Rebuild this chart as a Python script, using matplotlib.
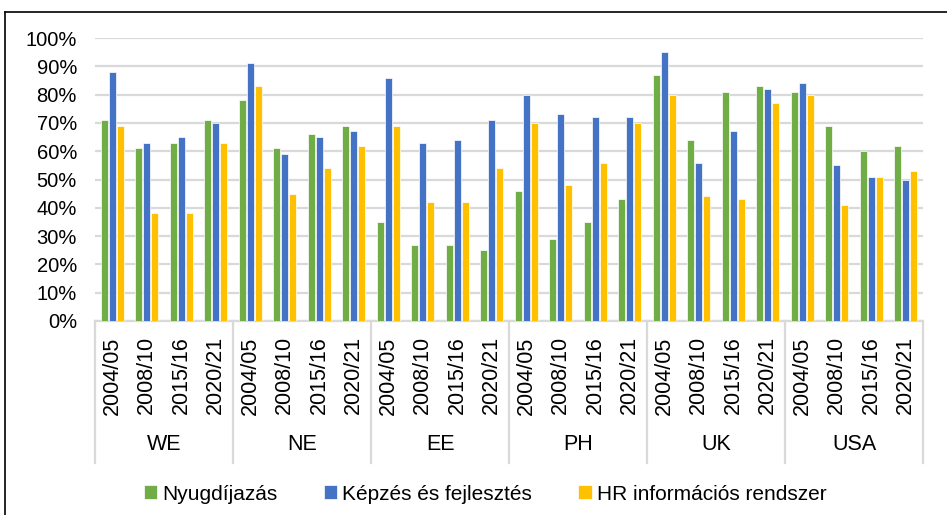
import matplotlib.pyplot as plt
import numpy as np
from matplotlib.lines import Line2D

plt.rcParams['font.family'] = ['Liberation Sans', 'DejaVu Sans']

regions = ['WE', 'NE', 'EE', 'PH', 'UK', 'USA']
periods = ['2004/05', '2008/10', '2015/16', '2020/21']
series = ['Nyugdíjazás', 'Képzés és fejlesztés', 'HR információs rendszer']

# values per region, 4 periods each (%)
nyugdij = [71, 61, 63, 71,  78, 61, 66, 69,  35, 27, 27, 25,
           46, 29, 35, 43,  87, 64, 81, 83,  81, 69, 60, 62]
kepzes = [88, 63, 65, 70,  91, 59, 65, 67,  86, 63, 64, 71,
          80, 73, 72, 72,  95, 56, 67, 82,  84, 55, 51, 50]
hr_info = [69, 38, 38, 63,  83, 45, 54, 62,  69, 42, 42, 54,
           70, 48, 56, 70,  80, 44, 43, 77,  80, 41, 51, 53]

colors = ['#70AD47', '#4472C4', '#FFC000']

W, H = 947, 515
fig = plt.figure(figsize=(W / 100, H / 100), dpi=100)
ax = fig.add_axes([95 / W, 1 - 321 / H, (923 - 95) / W, (321 - 38) / H])

n = len(regions) * len(periods)
x = np.arange(n)
bw = 0.21
for i, (vals, c, lab) in enumerate(zip([nyugdij, kepzes, hr_info], colors, series)):
    ax.bar(x + (i - 1) * (bw + 0.02), np.array(vals) / 100, width=bw, color=c,
           edgecolor='white', linewidth=0.5, label=lab, zorder=3)

ax.set_xlim(-0.5, n - 0.5)
ax.set_ylim(0, 1)
yt = np.arange(0, 101, 10)
ax.set_yticks(yt / 100)
ax.set_yticklabels([f'{v}%' for v in yt], fontsize=14.5)
ax.yaxis.grid(True, color='#D9D9D9', linewidth=1.6, zorder=0)
ax.tick_params(axis='y', length=0, pad=13)
for s in ['top', 'right', 'left']:
    ax.spines[s].set_visible(False)
ax.spines['bottom'].set_color('#D9D9D9')
ax.spines['bottom'].set_linewidth(1.6)

ax.set_xticks(x)
ax.set_xticklabels(periods * len(regions), rotation=90, fontsize=15.5)
ax.tick_params(axis='x', length=0, pad=11)

trans = ax.get_xaxis_transform()
for g in range(len(regions) + 1):
    xb = g * len(periods) - 0.5
    ax.plot([xb, xb], [0, -(463 - 321) / 283], color='#D9D9D9', linewidth=1.6,
            transform=trans, clip_on=False)
for g, r in enumerate(regions):
    xc = g * len(periods) + (len(periods) - 1) / 2
    ax.text(xc, -(445 - 321) / 283, r, transform=trans, ha='center', va='center',
            fontsize=15.5)

fig.legend(loc='center', bbox_to_anchor=(485 / W, 1 - 494 / H), ncol=3,
           frameon=False, fontsize=15, handlelength=0.65, handleheight=0.65,
           handletextpad=0.25, columnspacing=2.2)

# outer frame: left and top edges only
fig.add_artist(Line2D([5 / W, 5 / W], [0, 1 - 12 / H], color='black', linewidth=1.2,
                      transform=fig.transFigure))
fig.add_artist(Line2D([5 / W, 1], [1 - 12 / H, 1 - 12 / H], color='black', linewidth=1.2,
                      transform=fig.transFigure))

fig.savefig('out.png', dpi=100)
